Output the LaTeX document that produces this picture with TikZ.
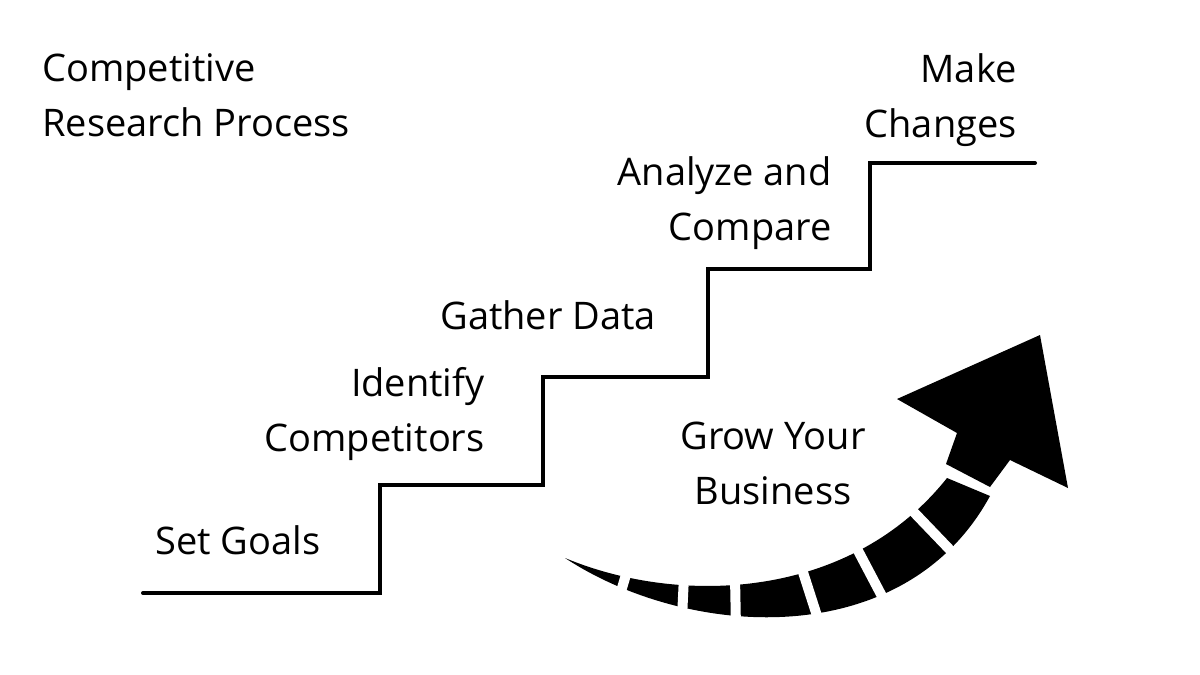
\documentclass[tikz,border=0pt]{standalone}
\usepackage{fontspec}
\setmainfont{Open Sans}
\tikzset{
  lbl/.style={font=\fontsize{19}{27.5}\selectfont, inner sep=0pt},
  gap/.style={white, line width=5pt}
}

\begin{document}
\begin{tikzpicture}[x=.5pt,y=-.5pt]
  \useasboundingbox[fill=white] (0,0) rectangle (1200,675);
  % the stairs
  \draw[line width=2pt, line cap=round]
    (143,593) -- (380,593) -- (380,485) -- (543,485) -- (543,377)
    -- (708,377) -- (708,269) -- (870,269) -- (870,163) -- (1035,163);
  % curved arrow
  \fill (565,558) .. controls (680,606) and (850,600) .. (947,478)
    -- (990,496) .. controls (905,652) and (690,640) .. (565,558) -- cycle;
  \draw[gap] (628,568) -- (619,598);
  \draw[gap] (684,576) -- (682,618);
  \draw[gap] (735,577) -- (736,628);
  \draw[gap] (801,566) -- (819,622);
  \draw[gap] (854,543) -- (884,600);
  \draw[gap] (906,504) -- (953,553);
  \fill (897,399) -- (957,433) -- (946,464) -- (990,487) -- (1010,460)
    -- (1068,488) -- (1040,335) -- cycle;
  % labels
  \node[lbl, anchor=west, align=left] (title) at (42,95) {Competitive\\Research Process};
  \node[lbl, anchor=east, align=right] (make) at (1017,100) {Make\\Changes};
  \node[lbl, anchor=east, align=right] (analyze) at (832,203) {Analyze and\\Compare};
  \node[lbl, anchor=west] (gather) at (440,315) {Gather Data};
  \node[lbl, anchor=east, align=right] (identify) at (485,414) {Identify\\Competitors};
  \node[lbl, anchor=west] (goals) at (155,540) {Set Goals};
  \node[lbl, align=center] (grow) at (773,463) {Grow Your\\Business};
\end{tikzpicture}
\end{document}
